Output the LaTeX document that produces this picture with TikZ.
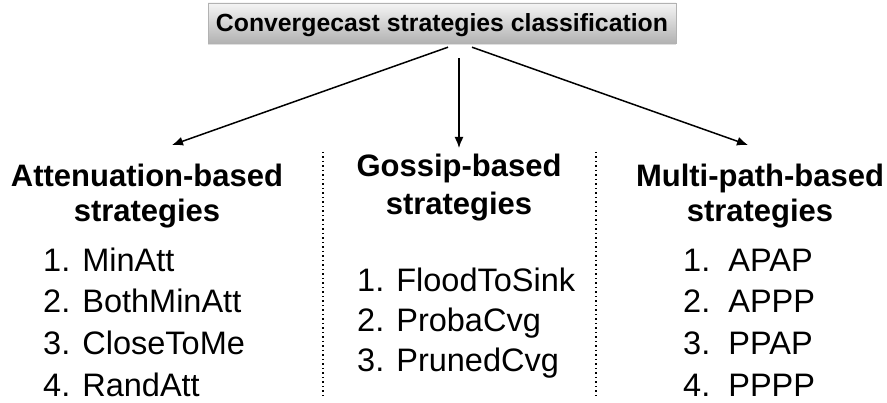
\documentclass[tikz,border=0pt]{standalone}
\usepackage{fontspec}
\setmainfont{Liberation Sans}
\usetikzlibrary{arrows.meta,shadows}

\tikzset{
  titlebox/.style={draw=gray!60, line width=0.4pt, top color=white!96!black, bottom color=white!70!black,
    minimum width=468pt, minimum height=40pt, inner sep=0pt, text height=17.5pt, text depth=0pt,
    drop shadow={opacity=0.25, shadow xshift=0pt, shadow yshift=-2pt},
    font=\fontsize{24.8}{28}\selectfont\bfseries},
  heading/.style={anchor=base, inner sep=0pt, font=\fontsize{31}{36}\selectfont\bfseries},
  item/.style={anchor=base west, inner sep=0pt, font=\fontsize{32.5}{38}\selectfont},
  arr/.style={-{Latex[length=11pt,width=9pt]}, line width=1.5pt},
  sepline/.style={line width=1.7pt, dash pattern=on 1.5pt off 3pt},
}

\begin{document}
\begin{tikzpicture}[x=1pt,y=-1pt]
  \useasboundingbox (0,0) rectangle (887,403);

  \node[titlebox] (title) at (442,23) {Convergecast strategies classification};

  % arrow ends
  \coordinate (attTip) at (172,145);
  \coordinate (gosTip) at (459,148);
  \coordinate (mulTip) at (748,145);
  \draw[arr] ([xshift=6pt,yshift=-4pt]title.south) -- (attTip);
  \draw[arr] ([xshift=17pt,yshift=-15pt]title.south) -- (gosTip);
  \draw[arr] ([xshift=30pt,yshift=-4pt]title.south) -- (mulTip);

  % headings
  \node[heading] (attH) at (147,187) {Attenuation-based};
  \node[heading] (attS) at (147,222) {strategies};
  \node[heading] (gosH) at (459,177) {Gossip-based};
  \node[heading] (gosS) at (459,215) {strategies};
  \node[heading] (mulH) at (760,187) {Multi-path-based};
  \node[heading] (mulS) at (760,222) {strategies};

  % separators
  \coordinate (sepAtop) at (322.7,152);
  \coordinate (sepAbot) at (322.7,399);
  \coordinate (sepBtop) at (596,152);
  \coordinate (sepBbot) at (596,399);
  \draw[sepline] (sepAtop) -- (sepAbot);
  \draw[sepline] (sepBtop) -- (sepBbot);

  % lists
  \node[item] (att1) at (43,272) {1. MinAtt};
  \node[item] (att2) at (43,313) {2. BothMinAtt};
  \node[item] (att3) at (43,355) {3. CloseToMe};
  \node[item] (att4) at (43,397) {4. RandAtt};

  \node[item] (gos1) at (357,292) {1. FloodToSink};
  \node[item] (gos2) at (357,332) {2. ProbaCvg};
  \node[item] (gos3) at (357,372) {3. PrunedCvg};

  \node[item] (mul1) at (683,272) {1.~~APAP};
  \node[item] (mul2) at (683,313) {2.~~APPP};
  \node[item] (mul3) at (683,355) {3.~~PPAP};
  \node[item] (mul4) at (683,397) {4.~~PPPP};
\end{tikzpicture}
\end{document}
